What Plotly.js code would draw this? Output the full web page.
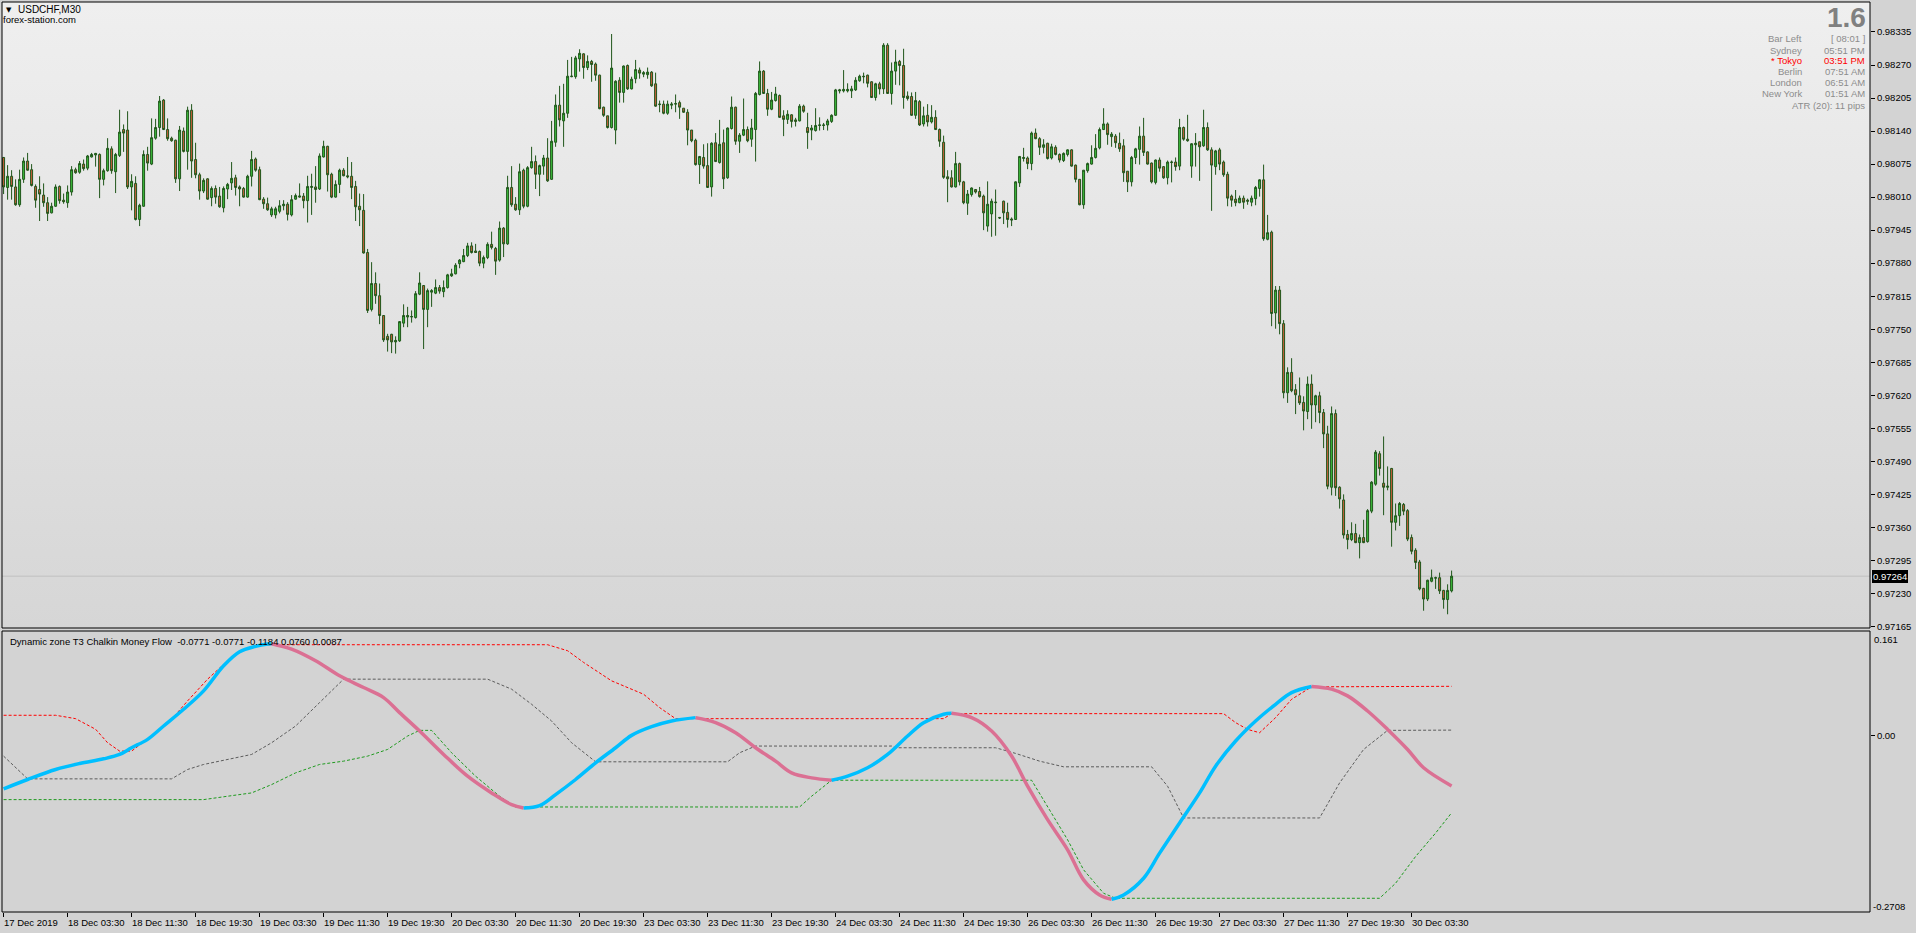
<!DOCTYPE html>
<html><head><meta charset="utf-8">
<script src="https://cdn.plot.ly/plotly-3.0.1.min.js"></script>
<style>
html,body{margin:0;padding:0;background:#d3d3d3;overflow:hidden;}
#wrap{position:relative;width:1916px;height:933px;}
#grad{position:absolute;left:2px;top:2px;width:1868px;height:626px;background:linear-gradient(to bottom,#efefef,#d6d6d6);}
#chart{position:absolute;left:0;top:0;width:1916px;height:933px;}
</style></head><body>
<div id="wrap"><div id="grad"></div><div id="chart"></div></div>
<script>
// ---------- DATA (USDCHF M30, bar index 0 = 17 Dec 2019 19:30) ----------
const openP = [
0.98088,0.98029,0.98051,0.98030,0.97995,0.98045,0.98081,0.98064,0.98031,0.98025,
0.98014,0.97999,0.97979,0.97992,0.98031,0.98004,0.97999,0.98020,0.98064,0.98059,
0.98075,0.98067,0.98089,0.98093,0.98094,0.98045,0.98062,0.98105,0.98060,0.98092,
0.98143,0.98142,0.98030,0.98037,0.97966,0.97992,0.98094,0.98075,0.98126,0.98147,
0.98201,0.98143,0.98126,0.98122,0.98046,0.98140,0.98100,0.98181,0.98084,0.98054,
0.98022,0.98046,0.98009,0.98027,0.98012,0.97989,0.98026,0.98038,0.98048,0.98030,
0.98027,0.98010,0.98051,0.98085,0.98064,0.98006,0.97997,0.97975,0.97975,0.97982,
0.97993,0.97996,0.97975,0.98006,0.98010,0.98012,0.98003,0.98029,0.98030,0.98026,
0.98089,0.98110,0.98055,0.98010,0.98035,0.98063,0.98052,0.98051,0.98031,0.97992,
0.97984,0.97901,0.97789,0.97840,0.97816,0.97777,0.97736,0.97740,0.97725,0.97727,
0.97762,0.97774,0.97774,0.97773,0.97819,0.97836,0.97789,0.97823,0.97821,0.97832,
0.97824,0.97832,0.97855,0.97859,0.97879,0.97883,0.97895,0.97914,0.97904,0.97903,
0.97880,0.97891,0.97917,0.97909,0.97886,0.97949,0.97918,0.98029,0.97996,0.97985,
0.98063,0.97992,0.98068,0.98080,0.98055,0.98071,0.98087,0.98045,0.98118,0.98191,
0.98160,0.98175,0.98247,0.98247,0.98282,0.98292,0.98265,0.98277,0.98272,0.98250,
0.98187,0.98170,0.98147,0.98142,0.98240,0.98216,0.98269,0.98223,0.98243,0.98260,
0.98252,0.98251,0.98256,0.98233,0.98192,0.98193,0.98175,0.98191,0.98193,0.98196,
0.98185,0.98177,0.98142,0.98122,0.98074,0.98088,0.98072,0.98030,0.98117,0.98078,
0.98117,0.98048,0.98145,0.98187,0.98120,0.98132,0.98143,0.98124,0.98143,0.98212,
0.98258,0.98214,0.98183,0.98200,0.98210,0.98170,0.98163,0.98172,0.98162,0.98160,
0.98189,0.98147,0.98142,0.98141,0.98151,0.98151,0.98152,0.98159,0.98171,0.98219,
0.98219,0.98219,0.98219,0.98221,0.98239,0.98248,0.98250,0.98237,0.98206,0.98233,
0.98223,0.98309,0.98214,0.98258,0.98277,0.98269,0.98209,0.98208,0.98171,0.98198,
0.98154,0.98171,0.98158,0.98167,0.98143,0.98118,0.98050,0.98048,0.98030,0.98076,
0.98040,0.97998,0.98015,0.98025,0.98021,0.98012,0.97953,0.97977,0.97999,0.97970,
0.98002,0.97980,0.97967,0.97966,0.98038,0.98086,0.98087,0.98076,0.98136,0.98125,
0.98108,0.98116,0.98087,0.98108,0.98094,0.98082,0.98094,0.98103,0.98073,0.98045,
0.97995,0.98062,0.98075,0.98088,0.98107,0.98143,0.98154,0.98129,0.98130,0.98116,
0.98111,0.98061,0.98040,0.98088,0.98104,0.98130,0.98099,0.98077,0.98039,0.98083,
0.98070,0.98048,0.98078,0.98079,0.98071,0.98147,0.98124,0.98071,0.98113,0.98119,
0.98111,0.98147,0.98103,0.98070,0.98103,0.98079,0.98055,0.98012,0.98006,0.97999,
0.98008,0.98004,0.98000,0.98007,0.98027,0.98044,0.97927,0.97941,0.97782,0.97827,
0.97761,0.97625,0.97665,0.97631,0.97619,0.97606,0.97588,0.97642,0.97601,0.97619,
0.97586,0.97544,0.97439,0.97584,0.97439,0.97414,0.97346,0.97336,0.97348,0.97330,
0.97340,0.97332,0.97392,0.97445,0.97505,0.97447,0.97439,0.97476,0.97370,0.97383,
0.97405,0.97393,0.97340,0.97315,0.97292,0.97240,0.97219,0.97254,0.97260,0.97261,
0.97236,0.97218,0.97235];
const highP = [
0.98089,0.98073,0.98063,0.98045,0.98064,0.98088,0.98097,0.98075,0.98035,0.98051,
0.98037,0.98010,0.97999,0.98035,0.98033,0.98017,0.98033,0.98071,0.98068,0.98081,
0.98084,0.98093,0.98097,0.98097,0.98096,0.98066,0.98126,0.98110,0.98097,0.98182,
0.98153,0.98179,0.98055,0.98051,0.97997,0.98102,0.98109,0.98165,0.98164,0.98209,
0.98203,0.98165,0.98129,0.98123,0.98150,0.98147,0.98188,0.98193,0.98117,0.98058,
0.98047,0.98047,0.98031,0.98033,0.98030,0.98031,0.98038,0.98079,0.98054,0.98033,
0.98030,0.98054,0.98101,0.98088,0.98070,0.98010,0.98009,0.97991,0.97991,0.98004,
0.98004,0.98000,0.98014,0.98017,0.98037,0.98018,0.98052,0.98056,0.98071,0.98096,
0.98121,0.98111,0.98058,0.98043,0.98066,0.98067,0.98089,0.98079,0.98042,0.98017,
0.98016,0.97908,0.97882,0.97862,0.97840,0.97778,0.97741,0.97741,0.97736,0.97766,
0.97799,0.97794,0.97787,0.97825,0.97862,0.97837,0.97830,0.97829,0.97848,0.97837,
0.97846,0.97859,0.97869,0.97880,0.97888,0.97908,0.97920,0.97921,0.97918,0.97905,
0.97895,0.97921,0.97942,0.97912,0.97962,0.97951,0.98052,0.98071,0.98010,0.98076,
0.98066,0.98071,0.98109,0.98092,0.98074,0.98093,0.98126,0.98160,0.98212,0.98229,
0.98233,0.98280,0.98286,0.98288,0.98301,0.98293,0.98289,0.98280,0.98275,0.98251,
0.98188,0.98170,0.98331,0.98240,0.98246,0.98269,0.98271,0.98247,0.98280,0.98265,
0.98258,0.98265,0.98258,0.98255,0.98200,0.98200,0.98200,0.98197,0.98212,0.98200,
0.98185,0.98183,0.98142,0.98125,0.98091,0.98114,0.98116,0.98118,0.98136,0.98162,
0.98143,0.98147,0.98208,0.98188,0.98136,0.98204,0.98149,0.98164,0.98217,0.98277,
0.98260,0.98223,0.98217,0.98227,0.98212,0.98181,0.98181,0.98173,0.98166,0.98193,
0.98192,0.98176,0.98152,0.98185,0.98167,0.98156,0.98164,0.98173,0.98223,0.98223,
0.98260,0.98234,0.98229,0.98246,0.98251,0.98255,0.98251,0.98238,0.98235,0.98237,
0.98313,0.98313,0.98275,0.98300,0.98280,0.98302,0.98218,0.98216,0.98217,0.98201,
0.98188,0.98193,0.98191,0.98181,0.98145,0.98131,0.98063,0.98063,0.98099,0.98078,
0.98042,0.98024,0.98029,0.98026,0.98030,0.98015,0.98041,0.98007,0.98025,0.97971,
0.98003,0.97999,0.97970,0.98041,0.98091,0.98107,0.98090,0.98139,0.98145,0.98128,
0.98124,0.98117,0.98115,0.98112,0.98096,0.98098,0.98104,0.98104,0.98074,0.98045,
0.98063,0.98078,0.98112,0.98134,0.98147,0.98185,0.98157,0.98138,0.98134,0.98137,
0.98124,0.98061,0.98091,0.98107,0.98149,0.98166,0.98100,0.98078,0.98084,0.98088,
0.98071,0.98082,0.98082,0.98088,0.98164,0.98149,0.98172,0.98116,0.98136,0.98119,
0.98182,0.98157,0.98108,0.98103,0.98107,0.98082,0.98060,0.98015,0.98024,0.98013,
0.98013,0.98007,0.98013,0.98032,0.98045,0.98074,0.97975,0.97944,0.97835,0.97835,
0.97768,0.97675,0.97693,0.97642,0.97655,0.97618,0.97657,0.97661,0.97621,0.97627,
0.97593,0.97560,0.97598,0.97592,0.97441,0.97425,0.97355,0.97370,0.97367,0.97346,
0.97375,0.97396,0.97451,0.97512,0.97510,0.97539,0.97480,0.97477,0.97407,0.97410,
0.97408,0.97396,0.97346,0.97319,0.97296,0.97241,0.97257,0.97277,0.97263,0.97271,
0.97237,0.97248,0.97275];
const lowP = [
0.98016,0.98005,0.98005,0.97993,0.97991,0.98038,0.98062,0.98031,0.97989,0.97963,
0.97991,0.97963,0.97978,0.97991,0.97997,0.97997,0.97989,0.98013,0.98056,0.98056,
0.98062,0.98063,0.98088,0.98070,0.98008,0.98033,0.98060,0.98056,0.98018,0.98089,
0.98099,0.98026,0.97984,0.97964,0.97953,0.97991,0.98062,0.98073,0.98123,0.98129,
0.98142,0.98121,0.98119,0.98038,0.98022,0.98098,0.98064,0.98048,0.98047,0.98005,
0.98018,0.98005,0.97992,0.97997,0.97989,0.97980,0.98006,0.98024,0.98013,0.97992,
0.98009,0.98009,0.98031,0.98060,0.98004,0.97987,0.97983,0.97971,0.97968,0.97978,
0.97984,0.97964,0.97972,0.98005,0.98009,0.97988,0.97960,0.97975,0.97999,0.98024,
0.98088,0.98021,0.98008,0.98009,0.98018,0.98051,0.98047,0.98006,0.97963,0.97953,
0.97899,0.97782,0.97785,0.97800,0.97760,0.97725,0.97706,0.97703,0.97702,0.97725,
0.97754,0.97754,0.97763,0.97771,0.97817,0.97711,0.97754,0.97794,0.97819,0.97820,
0.97813,0.97830,0.97853,0.97858,0.97870,0.97882,0.97892,0.97899,0.97900,0.97874,
0.97870,0.97888,0.97907,0.97857,0.97883,0.97892,0.97916,0.97991,0.97983,0.97975,
0.97988,0.97990,0.98066,0.98026,0.98012,0.98054,0.98040,0.98044,0.98109,0.98149,
0.98109,0.98166,0.98246,0.98243,0.98257,0.98243,0.98260,0.98237,0.98239,0.98183,
0.98168,0.98145,0.98145,0.98114,0.98196,0.98196,0.98221,0.98222,0.98234,0.98243,
0.98246,0.98243,0.98227,0.98188,0.98177,0.98173,0.98172,0.98183,0.98177,0.98164,
0.98176,0.98112,0.98118,0.98072,0.98036,0.98066,0.98028,0.98011,0.98079,0.98076,
0.98026,0.98046,0.98143,0.98113,0.98097,0.98130,0.98118,0.98109,0.98080,0.98210,
0.98213,0.98170,0.98181,0.98198,0.98166,0.98130,0.98154,0.98147,0.98149,0.98159,
0.98176,0.98105,0.98122,0.98139,0.98141,0.98142,0.98141,0.98156,0.98170,0.98214,
0.98216,0.98216,0.98205,0.98219,0.98237,0.98234,0.98226,0.98205,0.98200,0.98212,
0.98213,0.98213,0.98192,0.98231,0.98230,0.98184,0.98200,0.98170,0.98164,0.98150,
0.98149,0.98149,0.98155,0.98142,0.98109,0.98046,0.98000,0.98029,0.98029,0.98033,
0.97996,0.97975,0.98011,0.98017,0.98009,0.97945,0.97942,0.97932,0.97934,0.97967,
0.97957,0.97950,0.97953,0.97965,0.98030,0.98080,0.98065,0.98063,0.98124,0.98093,
0.98096,0.98084,0.98084,0.98092,0.98078,0.98079,0.98090,0.98070,0.98039,0.97994,
0.97987,0.98058,0.98074,0.98086,0.98104,0.98142,0.98113,0.98109,0.98107,0.98099,
0.98040,0.98020,0.98031,0.98075,0.98074,0.98091,0.98074,0.98037,0.98035,0.98060,
0.98046,0.98035,0.98039,0.98062,0.98063,0.98121,0.98119,0.98048,0.98070,0.98042,
0.98109,0.98101,0.97983,0.98054,0.98063,0.98050,0.97992,0.97991,0.97992,0.97998,
0.97987,0.97995,0.97992,0.97994,0.98011,0.97924,0.97925,0.97756,0.97751,0.97740,
0.97614,0.97605,0.97626,0.97583,0.97601,0.97551,0.97573,0.97554,0.97567,0.97565,
0.97516,0.97435,0.97423,0.97422,0.97397,0.97338,0.97317,0.97333,0.97329,0.97299,
0.97329,0.97330,0.97388,0.97442,0.97462,0.97384,0.97433,0.97322,0.97354,0.97363,
0.97384,0.97333,0.97307,0.97278,0.97236,0.97196,0.97215,0.97252,0.97239,0.97229,
0.97200,0.97189,0.97232];
const closeP = [
0.98030,0.98051,0.98031,0.97995,0.98045,0.98081,0.98063,0.98033,0.98004,0.98016,
0.97999,0.97978,0.97992,0.98030,0.98003,0.98001,0.98020,0.98064,0.98058,0.98076,
0.98066,0.98091,0.98094,0.98096,0.98045,0.98062,0.98106,0.98062,0.98094,0.98138,
0.98136,0.98030,0.98041,0.97966,0.97994,0.98094,0.98077,0.98127,0.98147,0.98199,
0.98143,0.98125,0.98121,0.98046,0.98142,0.98100,0.98181,0.98081,0.98054,0.98022,
0.98043,0.98006,0.98027,0.98010,0.97991,0.98027,0.98035,0.98047,0.98029,0.98026,
0.98010,0.98051,0.98084,0.98063,0.98005,0.97997,0.97985,0.97987,0.97987,0.97993,
0.97996,0.97976,0.98005,0.98013,0.98012,0.98003,0.98031,0.98031,0.98025,0.98091,
0.98110,0.98054,0.98010,0.98035,0.98063,0.98052,0.98050,0.98029,0.97991,0.97985,
0.97900,0.97787,0.97840,0.97816,0.97777,0.97729,0.97729,0.97725,0.97728,0.97765,
0.97777,0.97777,0.97775,0.97820,0.97841,0.97789,0.97826,0.97826,0.97832,0.97825,
0.97832,0.97857,0.97859,0.97876,0.97886,0.97895,0.97914,0.97901,0.97901,0.97880,
0.97891,0.97917,0.97911,0.97884,0.97949,0.97918,0.98029,0.97995,0.97985,0.98060,
0.97992,0.98068,0.98080,0.98055,0.98072,0.98087,0.98042,0.98120,0.98191,0.98162,
0.98175,0.98248,0.98248,0.98284,0.98293,0.98265,0.98277,0.98271,0.98250,0.98184,
0.98171,0.98147,0.98264,0.98238,0.98216,0.98268,0.98223,0.98242,0.98261,0.98254,
0.98255,0.98256,0.98229,0.98189,0.98193,0.98175,0.98193,0.98193,0.98194,0.98187,
0.98177,0.98142,0.98121,0.98074,0.98090,0.98071,0.98029,0.98116,0.98080,0.98114,
0.98046,0.98146,0.98187,0.98120,0.98132,0.98143,0.98121,0.98146,0.98214,0.98258,
0.98214,0.98183,0.98201,0.98213,0.98167,0.98163,0.98173,0.98159,0.98159,0.98189,
0.98179,0.98137,0.98146,0.98151,0.98152,0.98152,0.98160,0.98171,0.98221,0.98221,
0.98222,0.98222,0.98223,0.98240,0.98248,0.98247,0.98234,0.98206,0.98233,0.98223,
0.98309,0.98214,0.98258,0.98276,0.98269,0.98206,0.98204,0.98171,0.98200,0.98152,
0.98170,0.98158,0.98167,0.98143,0.98120,0.98049,0.98046,0.98030,0.98076,0.98040,
0.97999,0.98016,0.98028,0.98020,0.98011,0.97979,0.97996,0.98002,0.98000,0.97969,
0.97979,0.97966,0.97965,0.98040,0.98090,0.98088,0.98076,0.98136,0.98125,0.98108,
0.98113,0.98086,0.98109,0.98094,0.98083,0.98096,0.98103,0.98071,0.98045,0.97995,
0.98063,0.98076,0.98088,0.98106,0.98143,0.98154,0.98133,0.98134,0.98117,0.98105,
0.98058,0.98040,0.98088,0.98105,0.98130,0.98098,0.98075,0.98040,0.98083,0.98067,
0.98048,0.98079,0.98079,0.98070,0.98147,0.98124,0.98121,0.98115,0.98116,0.98109,
0.98147,0.98103,0.98073,0.98101,0.98075,0.98054,0.98008,0.98004,0.97999,0.98008,
0.98000,0.98002,0.98008,0.98029,0.98044,0.97928,0.97940,0.97781,0.97827,0.97761,
0.97625,0.97665,0.97629,0.97621,0.97605,0.97589,0.97642,0.97601,0.97619,0.97586,
0.97544,0.97441,0.97584,0.97438,0.97416,0.97345,0.97336,0.97348,0.97330,0.97340,
0.97330,0.97393,0.97449,0.97508,0.97476,0.97439,0.97441,0.97370,0.97383,0.97407,
0.97392,0.97337,0.97313,0.97291,0.97239,0.97219,0.97256,0.97261,0.97261,0.97235,
0.97218,0.97236,0.97264];

// Indicator: Dynamic zone T3 Chaikin Money Flow (vertices by bar index)
const cmfBar = [0,6,13,19,25,29,32,36,40,45,50,55,59,63,66,67,72,78,84,90,95,99,104,110,116,122,127,130,134,138,143,148,153,157,162,167,173,178,183,188,193,197,202,207,211,216,221,226,230,235,237,242,247,252,256,261,266,270,274,277,280,285,289,294,299,303,308,313,318,322,327,332,336,341,346,351,355,362];
const cmfVal = [-0.0816,-0.0672,-0.0518,-0.0426,-0.0354,-0.0287,-0.0184,-0.0055,0.0150,0.0407,0.0690,0.1075,0.1291,0.1374,0.1410,0.1415,0.1332,0.1153,0.0921,0.0741,0.0587,0.0356,0.0073,-0.0287,-0.0621,-0.0878,-0.1058,-0.1109,-0.1073,-0.0904,-0.0672,-0.0416,-0.0184,0.0006,0.0140,0.0227,0.0279,0.0202,0.0047,-0.0184,-0.0390,-0.0569,-0.0647,-0.0683,-0.0621,-0.0492,-0.0287,-0.0004,0.0202,0.0330,0.0345,0.0279,0.0073,-0.0312,-0.0775,-0.1289,-0.1752,-0.2214,-0.2446,-0.2513,-0.2446,-0.2189,-0.1803,-0.1340,-0.0878,-0.0467,-0.0081,0.0227,0.0484,0.0664,0.0757,0.0716,0.0613,0.0381,0.0098,-0.0210,-0.0492,-0.0771];
const upBar = [0,13,18,23,26,29,32,37,42,46,51,56,60,65,67,136,141,145,152,160,164,168,235,237,305,308,311,314,318,322,327,362];
const upVal = [0.0315,0.0315,0.0263,0.0100,-0.0107,-0.0235,-0.0235,-0.0004,0.0253,0.0536,0.0870,0.1153,0.1322,0.1394,0.1399,0.1399,0.1307,0.1127,0.0844,0.0638,0.0433,0.0263,0.0263,0.0340,0.0340,0.0202,0.0098,0.0047,0.0279,0.0561,0.0752,0.0760];
const midBar = [0,6,42,46,50,56,62,67,73,79,85,121,127,132,137,142,148,181,184,188,222,223,248,253,259,265,287,291,295,329,334,340,346,362];
const midVal = [-0.0313,-0.0662,-0.0662,-0.0518,-0.0441,-0.0364,-0.0287,-0.0107,0.0150,0.0510,0.0870,0.0870,0.0716,0.0484,0.0227,-0.0107,-0.0400,-0.0400,-0.0261,-0.0158,-0.0158,-0.0184,-0.0184,-0.0271,-0.0390,-0.0477,-0.0477,-0.0775,-0.1263,-0.1263,-0.0724,-0.0210,0.0083,0.0087];
const loBar = [0,50,56,62,67,73,79,85,91,96,101,104,107,112,118,124,128,199,202,207,257,261,266,270,275,278,344,348,353,358,362];
const loVal = [-0.0981,-0.0981,-0.0929,-0.0878,-0.0750,-0.0570,-0.0441,-0.0390,-0.0313,-0.0210,-0.0004,0.0083,0.0083,-0.0261,-0.0621,-0.0929,-0.1094,-0.1094,-0.0929,-0.0683,-0.0683,-0.1084,-0.1598,-0.2060,-0.2420,-0.2497,-0.2497,-0.2266,-0.1855,-0.1495,-0.1184];

const priceTicks = [0.98335,0.98270,0.98205,0.98140,0.98075,0.98010,0.97945,0.97880,0.97815,0.97750,0.97685,0.97620,0.97555,0.97490,0.97425,0.97360,0.97295,0.97230,0.97165];
const subTop = 0.161, subBottom = -0.2708;
const timeTickBars = [0,16,32,48,64,80,96,112,128,144,160,176,192,208,224,240,256,272,288,304,320,336,352];
const timeTickLabels = ['17 Dec 2019','18 Dec 03:30','18 Dec 11:30','18 Dec 19:30','19 Dec 03:30','19 Dec 11:30','19 Dec 19:30','20 Dec 03:30','20 Dec 11:30','20 Dec 19:30','23 Dec 03:30','23 Dec 11:30','23 Dec 19:30','24 Dec 03:30','24 Dec 11:30','24 Dec 19:30','26 Dec 03:30','26 Dec 11:30','26 Dec 19:30','27 Dec 03:30','27 Dec 11:30','27 Dec 19:30','30 Dec 03:30'];
const symbolTitle = 'USDCHF,M30';
const siteText = 'forex-station.com';
const spreadText = '1.6';
const infoLabels = ['Bar Left','Sydney','* Tokyo','Berlin','London','New York'];
const infoValues = ['[ 08:01 ]','05:51 PM','03:51 PM','07:51 AM','06:51 AM','01:51 AM'];
const infoHighlight = [false,false,true,false,false,false];
const atrText = 'ATR (20): 11 pips';
const indicatorName = 'Dynamic zone T3 Chalkin Money Flow';

// ---------- LAYOUT GEOMETRY ----------
const W = 1916, H = 933, ML = 2, MR = 46, MT = 2, MB = 21;
const PW = W - ML - MR, PH = H - MT - MB;
const px = x => (x - ML) / PW;
const py = y => (H - MB - y) / PH;
const FONT = 'Liberation Sans, Arial, sans-serif';

const bars = openP.map((_, i) => i);
const lastClose = closeP[closeP.length - 1];

const traces = [];
traces.push({
  type: 'candlestick', x: bars, open: openP, high: highP, low: lowP, close: closeP,
  xaxis: 'x', yaxis: 'y', whiskerwidth: 0, hoverinfo: 'skip',
  increasing: {line: {color: '#1f561a', width: 1}, fillcolor: '#3cbc3c'},
  decreasing: {line: {color: '#1f561a', width: 1}, fillcolor: '#cc5f3c'}
});

function dashed(xs, ys, color) {
  return {type: 'scatter', mode: 'lines', x: xs, y: ys, xaxis: 'x', yaxis: 'y2', hoverinfo: 'skip',
    line: {color: color, width: 1, dash: '3px,2px'}};
}
traces.push(dashed(midBar, midVal, '#5c5c5c'));
traces.push(dashed(loBar, loVal, '#1f9a1f'));
traces.push(dashed(upBar, upVal, '#ff0000'));

// main line colored by direction (blue rising, pink falling)
(function () {
  const runs = [];
  let cur = {up: cmfVal[1] >= cmfVal[0], x: [cmfBar[0]], y: [cmfVal[0]]};
  for (let i = 1; i < cmfBar.length; i++) {
    const up = cmfVal[i] >= cmfVal[i - 1];
    if (up !== cur.up) { runs.push(cur); cur = {up: up, x: [cmfBar[i - 1]], y: [cmfVal[i - 1]]}; }
    cur.x.push(cmfBar[i]); cur.y.push(cmfVal[i]);
  }
  runs.push(cur);
  runs.forEach(r => traces.push({type: 'scatter', mode: 'lines', x: r.x, y: r.y, xaxis: 'x', yaxis: 'y2',
    hoverinfo: 'skip', line: {color: r.up ? '#00bfff' : '#db7093', width: 3.5, shape: 'spline', smoothing: 1.0}}));
})();

const ann = [];
const txt = (o) => Object.assign({showarrow: false, borderpad: 0, borderwidth: 0,
  font: {family: FONT, size: 9.5, color: '#000'}}, o);

// x labels
timeTickBars.forEach((b, i) => ann.push(txt({xref: 'x', yref: 'paper', x: b, y: py(922), xanchor: 'left', yanchor: 'middle', text: timeTickLabels[i]})));
// price box
ann.push(txt({xref: 'paper', yref: 'y', x: px(1872), y: lastClose, xanchor: 'left', yanchor: 'middle',
  text: lastClose.toFixed(5), bgcolor: '#000', borderpad: 1, font: {family: FONT, size: 9.5, color: '#fff'}}));
// sub axis extreme labels
ann.push(txt({xref: 'paper', yref: 'paper', x: px(1874), y: py(639), xanchor: 'left', yanchor: 'middle', text: String(subTop)}));
ann.push(txt({xref: 'paper', yref: 'paper', x: px(1873), y: py(906), xanchor: 'left', yanchor: 'middle', text: String(subBottom)}));
// top-left
ann.push(txt({xref: 'paper', yref: 'paper', x: px(6), y: py(10), xanchor: 'left', yanchor: 'middle', text: '\u25BC', font: {family: 'DejaVu Sans', size: 7, color: '#000'}}));
ann.push(txt({xref: 'paper', yref: 'paper', x: px(18), y: py(10), xanchor: 'left', yanchor: 'middle', text: symbolTitle, font: {family: FONT, size: 10, color: '#000'}}));
ann.push(txt({xref: 'paper', yref: 'paper', x: px(3), y: py(19.5), xanchor: 'left', yanchor: 'middle', text: siteText}));
// info panel
ann.push(txt({xref: 'paper', yref: 'paper', x: px(1866), y: py(17), xanchor: 'right', yanchor: 'middle', text: '<b>' + spreadText + '</b>', font: {family: FONT, size: 28, color: '#808080'}}));
const rowY = [38.7, 50, 60.8, 71.7, 82.4, 93.3];
infoLabels.forEach((l, i) => {
  const c = infoHighlight[i] ? '#ff0000' : '#8c8c8c';
  ann.push(txt({xref: 'paper', yref: 'paper', x: px(1802), y: py(rowY[i]), xanchor: 'right', yanchor: 'middle', text: l, font: {family: FONT, size: 9.5, color: c}}));
  ann.push(txt({xref: 'paper', yref: 'paper', x: px(1865), y: py(rowY[i]), xanchor: 'right', yanchor: 'middle', text: infoValues[i], font: {family: FONT, size: 9.5, color: c}}));
});
ann.push(txt({xref: 'paper', yref: 'paper', x: px(1865), y: py(105), xanchor: 'right', yanchor: 'middle', text: atrText, font: {family: FONT, size: 9.5, color: '#8c8c8c'}}));
// indicator legend
const last = a => a[a.length - 1].toFixed(4);
ann.push(txt({xref: 'paper', yref: 'paper', x: px(10), y: py(641), xanchor: 'left', yanchor: 'middle',
  text: indicatorName + '\u00a0\u00a0' + [last(cmfVal), last(cmfVal), last(loVal), last(upVal), last(midVal)].join(' ')}));

const mainBottom = py(628), subTopPaper = py(631);
const layout = {
  width: W, height: H, margin: {l: ML, r: MR, t: MT, b: MB, pad: 0},
  paper_bgcolor: 'rgba(0,0,0,0)', plot_bgcolor: 'rgba(0,0,0,0)', showlegend: false,
  xaxis: {range: [-0.4, 466.6], anchor: 'y2', showgrid: false, zeroline: false, showline: false,
    tickvals: timeTickBars, ticktext: timeTickBars.map(() => ''), ticks: 'outside', ticklen: 4, tickcolor: '#000',
    tickwidth: 1, showticklabels: false, rangeslider: {visible: false}, fixedrange: true},
  yaxis: {domain: [mainBottom, 1], range: [0.97162, 0.98394], side: 'right', anchor: 'x',
    tickvals: priceTicks, ticktext: priceTicks.map(v => v.toFixed(5)), ticks: 'outside', ticklen: 4, tickcolor: '#000',
    tickfont: {family: FONT, size: 9.5, color: '#000'}, showgrid: false, zeroline: false, showline: false, fixedrange: true},
  yaxis2: {domain: [0, subTopPaper], range: [subBottom, subTop], side: 'right', anchor: 'x',
    tickvals: [0], ticktext: ['0.00'], ticks: 'outside', ticklen: 4, tickcolor: '#000',
    tickfont: {family: FONT, size: 9.5, color: '#000'}, showgrid: false, zeroline: false, showline: false, fixedrange: true},
  shapes: [
    {type: 'line', xref: 'paper', yref: 'y', x0: 0, x1: 1, y0: lastClose, y1: lastClose, line: {color: '#c0c0c0', width: 1}, layer: 'below'},
    {type: 'rect', xref: 'paper', yref: 'paper', x0: 0, x1: 1, y0: mainBottom, y1: 1, line: {color: '#000', width: 1}},
    {type: 'rect', xref: 'paper', yref: 'paper', x0: 0, x1: 1, y0: 0, y1: subTopPaper, line: {color: '#000', width: 1}}
  ],
  annotations: ann
};
Plotly.newPlot('chart', traces, layout, {staticPlot: true, displayModeBar: false});
</script>
</body></html>
